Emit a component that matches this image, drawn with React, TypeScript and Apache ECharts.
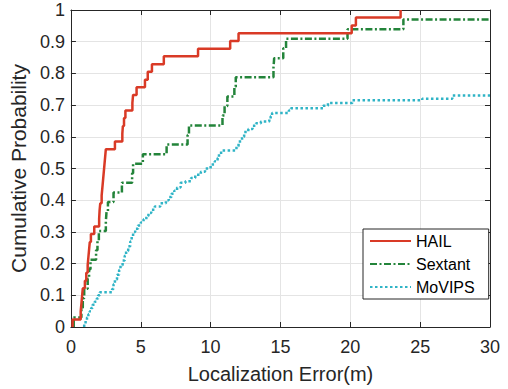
import React, { useEffect, useRef } from "react";
import * as echarts from "echarts";

const xTicks = [0, 5, 10, 15, 20, 25, 30];
const yTicks = [0, 0.1, 0.2, 0.3, 0.4, 0.5, 0.6, 0.7, 0.8, 0.9, 1];

const hailX = [0.12, 0.12, 0.7, 0.75, 0.8, 0.85, 1.0, 1.1, 1.2, 1.25, 1.3, 1.35, 1.43, 1.67, 2.02, 2.05, 2.1, 2.2, 2.25, 2.3, 2.35, 2.4, 2.45, 2.5, 3.15, 3.68, 3.72, 3.8, 3.9, 4.4, 4.45, 4.7, 5.3, 5.5, 5.8, 6.65, 9.1, 11.4, 12.0, 20.1, 20.4, 23.6];
const hailY = [0, 0.024, 0.049, 0.073, 0.098, 0.122, 0.146, 0.171, 0.195, 0.22, 0.244, 0.268, 0.293, 0.317, 0.341, 0.366, 0.39, 0.415, 0.439, 0.463, 0.488, 0.512, 0.537, 0.561, 0.585, 0.61, 0.634, 0.659, 0.683, 0.707, 0.732, 0.756, 0.78, 0.805, 0.829, 0.854, 0.878, 0.902, 0.927, 0.951, 0.976, 1.0];

const sextantX = [0.2, 0.2, 0.75, 0.85, 0.95, 1.2, 1.3, 1.4, 1.8, 1.9, 2.0, 2.5, 2.55, 2.65, 3.05, 3.65, 4.38, 4.45, 5.15, 6.85, 8.35, 8.45, 10.85, 11.0, 11.2, 11.7, 11.8, 14.5, 14.55, 15.2, 15.4, 19.8, 23.8, 30];
const sextantY = [0, 0.03, 0.061, 0.091, 0.121, 0.152, 0.182, 0.212, 0.242, 0.273, 0.303, 0.333, 0.364, 0.394, 0.424, 0.455, 0.485, 0.515, 0.545, 0.576, 0.606, 0.636, 0.667, 0.697, 0.727, 0.758, 0.788, 0.818, 0.848, 0.879, 0.909, 0.939, 0.97, 0.97];

const movipsX = [0.95, 0.95, 1.05, 1.15, 1.25, 1.35, 1.45, 1.55, 1.7, 1.85, 1.95, 2.07, 2.95, 3.05, 3.15, 3.3, 3.45, 3.55, 3.7, 3.85, 3.95, 4.1, 4.25, 4.35, 4.45, 4.6, 4.8, 5.0, 5.2, 5.4, 5.55, 5.75, 6.0, 6.4, 6.8, 7.0, 7.2, 7.4, 7.6, 7.85, 8.2, 8.6, 8.9, 9.3, 9.6, 10.0, 10.3, 10.5, 10.6, 10.75, 11.85, 12.0, 12.1, 12.25, 12.4, 12.7, 13.0, 13.25, 13.6, 14.2, 14.3, 14.4, 15.6, 15.75, 18.05, 18.4, 20.15, 25.15, 27.3, 30];
const movipsY = [0, 0.01, 0.02, 0.03, 0.04, 0.05, 0.06, 0.07, 0.08, 0.09, 0.1, 0.11, 0.12, 0.135, 0.15, 0.165, 0.18, 0.195, 0.21, 0.225, 0.24, 0.255, 0.27, 0.285, 0.3, 0.31, 0.32, 0.33, 0.34, 0.35, 0.36, 0.37, 0.38, 0.39, 0.4, 0.41, 0.42, 0.43, 0.44, 0.455, 0.46, 0.47, 0.48, 0.49, 0.5, 0.513, 0.523, 0.533, 0.545, 0.557, 0.57, 0.58, 0.59, 0.6, 0.615, 0.625, 0.635, 0.643, 0.648, 0.655, 0.665, 0.675, 0.683, 0.69, 0.698, 0.707, 0.715, 0.72, 0.73, 0.73];

const seriesNames = ["HAIL", "Sextant", "MoVIPS"];
const colors = ["#d93a26", "#23843a", "#2fb4c6"];

const FONT = "'Liberation Sans', Arial, Helvetica, sans-serif";
const AX = "#262626";

function pairs(xs: number[], ys: number[]) {
  return xs.map((x, i) => [x, ys[i]]);
}

export default function App() {
  const ref = useRef<HTMLDivElement>(null);
  useEffect(() => {
    document.body.style.margin = "0";
    if (!ref.current) return;
    const chart = echarts.init(ref.current, null, { renderer: "svg" });
    const axisLine = { show: true, onZero: false, lineStyle: { color: AX, width: 1 } };
    const axisTick = { show: true, inside: true, length: 5, lineStyle: { color: AX, width: 1 } };
    const split = { show: true, lineStyle: { color: "#e4e4e4", width: 1 } };
    const fmtY = (v: number) => {
      const r = Math.round(v * 10) / 10;
      return yTicks.includes(r) ? String(r) : "";
    };
    const fmtX = (v: number) => (xTicks.includes(v) ? String(v) : "");
    chart.setOption({
      animation: false,
      textStyle: { fontFamily: FONT },
      grid: { left: 69, right: 18, top: 10, bottom: 61, containLabel: false },
      xAxis: [
        {
          type: "value", min: 0, max: 30, interval: 5, position: "bottom",
          name: "Localization Error(m)", nameLocation: "middle", nameGap: 37,
          nameTextStyle: { fontSize: 20, color: AX, fontFamily: FONT },
          axisLine, axisTick,
          axisLabel: { fontSize: 18, color: AX, margin: 11, fontFamily: FONT, formatter: fmtX },
          splitLine: split,
        },
        {
          type: "value", min: 0, max: 30, interval: 5, position: "top",
          axisLine, axisTick, axisLabel: { show: false }, splitLine: { show: false },
        },
      ],
      yAxis: [
        {
          type: "value", min: 0, max: 1, interval: 0.1, position: "left",
          name: "Cumulative Probability", nameLocation: "middle", nameGap: 35,
          nameTextStyle: { fontSize: 21, color: AX, fontFamily: FONT },
          axisLine, axisTick,
          axisLabel: { fontSize: 18, color: AX, margin: 6, fontFamily: FONT, formatter: fmtY },
          splitLine: split,
        },
        {
          type: "value", min: 0, max: 1, interval: 0.1, position: "right",
          axisLine, axisTick, axisLabel: { show: false }, splitLine: { show: false },
        },
      ],
      legend: {
        show: true,
        orient: "vertical",
        left: 363,
        top: 229,
        padding: [4, 14, 4, 6],
        itemGap: 7,
        itemWidth: 41,
        itemHeight: 14,
        borderColor: AX,
        borderWidth: 1,
        backgroundColor: "#ffffff",
        itemStyle: { opacity: 0 },
        textStyle: { fontSize: 16, color: "#000", fontFamily: FONT },
        data: seriesNames,
      },
      series: [
        {
          name: seriesNames[0], type: "line", step: "end", symbol: "none", showSymbol: false,
          xAxisIndex: 0, yAxisIndex: 0, z: 5,
          data: pairs(hailX, hailY),
          itemStyle: { color: colors[0] },
          lineStyle: { color: colors[0], width: 2.5, type: "solid" },
        },
        {
          name: seriesNames[1], type: "line", step: "end", symbol: "none", showSymbol: false,
          xAxisIndex: 0, yAxisIndex: 0, z: 4,
          data: pairs(sextantX, sextantY),
          itemStyle: { color: colors[1] },
          lineStyle: { color: colors[1], width: 2.5, type: [7, 2.5, 2, 2.5] },
        },
        {
          name: seriesNames[2], type: "line", step: "end", symbol: "none", showSymbol: false,
          xAxisIndex: 0, yAxisIndex: 0, z: 3,
          data: pairs(movipsX, movipsY),
          itemStyle: { color: colors[2] },
          lineStyle: { color: colors[2], width: 2.5, type: [2.5, 2.5] },
        },
      ],
    });
    return () => chart.dispose();
  }, []);
  return (
    <div
      ref={ref}
      style={{ position: "fixed", left: 0, top: 0, width: 508, height: 389, background: "#fff" }}
    />
  );
}
